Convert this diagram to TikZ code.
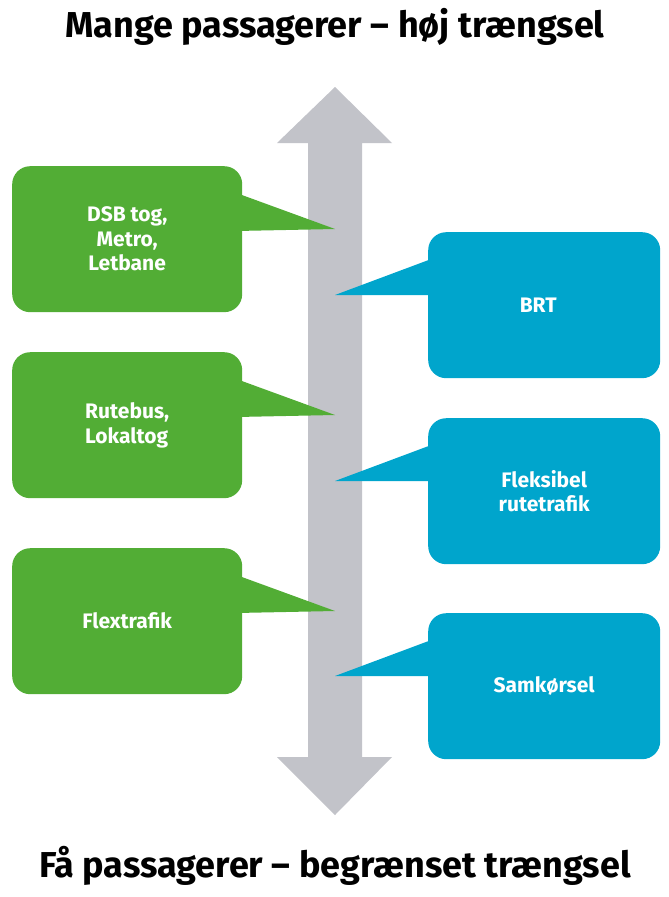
\documentclass[tikz,border=0pt]{standalone}
\usepackage{fontspec}
\setmainfont{Fira Sans}
\definecolor{cgreen}{HTML}{52AD35}
\definecolor{cblue}{HTML}{00A5CC}
\definecolor{cgrey}{HTML}{C2C3C9}
\begin{document}
\begin{tikzpicture}[x=1pt,y=-1pt,
  gbox/.style={fill=cgreen,rounded corners=18pt,minimum width=230pt,minimum height=146pt,inner sep=0pt,anchor=north west},
  bbox/.style={fill=cblue,rounded corners=18pt,minimum width=232pt,minimum height=146pt,inner sep=0pt,anchor=north west},
  lbl/.style={text=white,font=\bfseries\fontsize{21}{24.5}\selectfont,align=center},
  title/.style={font=\bfseries\fontsize{36}{40}\selectfont}]
\useasboundingbox (0,0) rectangle (669,897);
% double arrow
\fill[cgrey] (335,87) -- (392,143) -- (362,143) -- (362,757) -- (392,757) -- (335,815) -- (277,757) -- (308,757) -- (308,143) -- (277,143) -- cycle;
% green boxes
\node[gbox] (g1) at (12,166) {};
\node[gbox] (g2) at (12,352) {};
\node[gbox] (g3) at (12,548) {};
\foreach \n in {g1,g2,g3}{
  \coordinate (\n tip) at ([yshift=-63pt]\n.north east -| 335,0);
  \fill[cgreen] ([shift={(-6pt,-27pt)}]\n.north east) -- (\n tip) -- ([shift={(-6pt,-65pt)}]\n.north east) -- cycle;
}
% blue boxes
\node[bbox] (b1) at (428,232) {};
\node[bbox] (b2) at (428,418) {};
\node[bbox] (b3) at (428,613) {};
\foreach \n in {b1,b2,b3}{
  \coordinate (\n tip) at ([yshift=-63pt]\n.north west -| 335,0);
  \fill[cblue] ([shift={(6pt,-26pt)}]\n.north west) -- (\n tip) -- ([shift={(6pt,-63pt)}]\n.north west) -- cycle;
}
% labels
\node[lbl] (t1) at (g1.center) {DSB tog,\\Metro,\\Letbane};
\node[lbl,align=left] (t2) at (g2.center) {Rutebus,\\Lokaltog};
\node[lbl] (t3) at (g3.center) {Flextrafik};
\node[lbl] (t4) at ([xshift=-6pt]b1.center) {BRT};
\node[lbl] (t5) at (b2.center) {Fleksibel\\rutetrafik};
\node[lbl] (t6) at (b3.center) {Samkørsel};
% titles
\node[title] (top) at (335,27) {Mange passagerer – høj trængsel};
\node[title] (bot) at (335,866) {Få passagerer – begrænset trængsel};
\end{tikzpicture}
\end{document}
